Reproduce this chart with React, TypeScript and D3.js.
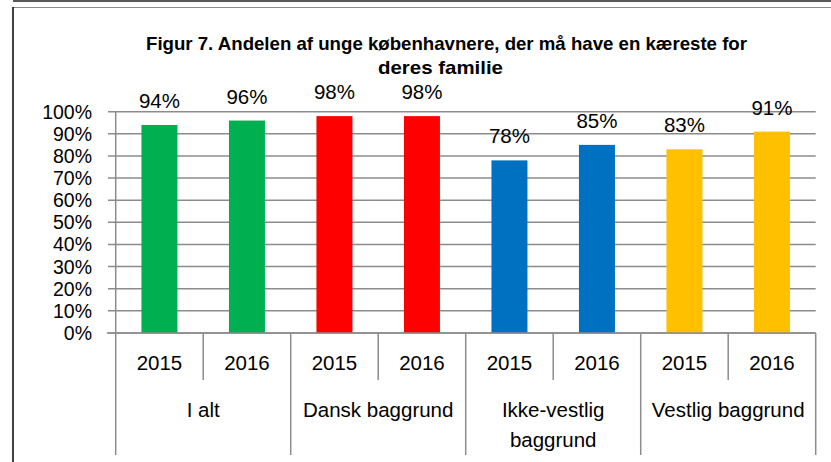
import React from "react";
import * as d3 from "d3";

const groups = ["I alt", "Dansk baggrund", "Ikke-vestlig\nbaggrund", "Vestlig baggrund"];
const years = ["2015", "2016"];
const values = [94, 96, 98, 98, 78, 85, 83, 91];
const groupColors = ["#00B050", "#FF0000", "#0070C0", "#FFC000"];
const yTicks = [0, 10, 20, 30, 40, 50, 60, 70, 80, 90, 100];
const titleLines = ["Figur 7. Andelen af unge københavnere,  der må have en kæreste for", "deres familie"];

const W = 831;
const H = 462;
const plotLeft = 115.7;
const plotRight = 815.7;
const plotTop = 111.7;
const plotBottom = 333;
const font = "'Liberation Sans', Arial, sans-serif";
const fs = 20.5;

export default function App() {
  const slots = values.map((_, i) => String(i));
  const x = d3.scaleBand<string>().domain(slots).range([plotLeft, plotRight]).padding(0);
  const y = d3.scaleLinear().domain([0, 100]).range([plotBottom, plotTop]);
  const bw = x.bandwidth();
  const barW = 36;
  const grid = "#8c8c8c";

  return (
    <svg width={W} height={H} style={{ position: "absolute", left: 0, top: 0, background: "#fff" }}>
      {/* frame */}
      <line x1={13} x2={W} y1={1} y2={1} stroke="#595959" strokeWidth={2} />
      <line x1={13} x2={W} y1={7.5} y2={7.5} stroke="#8c8c8c" strokeWidth={1} />
      <line x1={13} x2={13} y1={7} y2={H} stroke="#000" strokeWidth={1.5} />

      {/* title */}
      <text x={446.5} y={50} textAnchor="middle" fontFamily={font} fontWeight="bold" fontSize={18.5}
        textLength={601} lengthAdjust="spacingAndGlyphs" fill="#000">{titleLines[0]}</text>
      <text x={440.5} y={74} textAnchor="middle" fontFamily={font} fontWeight="bold" fontSize={18.5}
        textLength={125} lengthAdjust="spacingAndGlyphs" fill="#000">{titleLines[1]}</text>

      {/* gridlines */}
      {yTicks.map((t) => (
        <g key={t}>
          <line x1={108} x2={plotRight} y1={y(t)} y2={y(t)} stroke={grid} strokeWidth={1.5} />
          <text x={92} y={y(t) + 7} textAnchor="end" fontFamily={font} fontSize={19.5} fill="#000">{t + "%"}</text>
        </g>
      ))}

      {/* bars */}
      {values.map((v, i) => {
        const cx = (x(String(i)) as number) + bw / 2;
        return (
          <g key={i}>
            <rect x={cx - barW / 2} y={y(v)} width={barW} height={plotBottom - y(v)} fill={groupColors[Math.floor(i / 2)]} />
            <text x={cx} y={y(v) - 17} textAnchor="middle" fontFamily={font} fontSize={fs} fill="#000">{v + "%"}</text>
          </g>
        );
      })}

      {/* axes */}
      <line x1={plotLeft} x2={plotLeft} y1={plotTop} y2={455} stroke={grid} strokeWidth={1.5} />
      <line x1={107} x2={plotRight} y1={plotBottom} y2={plotBottom} stroke={grid} strokeWidth={1.5} />
      {d3.range(1, values.length + 1).map((k) => {
        const xx = plotLeft + k * bw;
        const isGroup = k % 2 === 0;
        return <line key={k} x1={xx} x2={xx} y1={plotBottom} y2={isGroup ? 455 : 380} stroke={grid} strokeWidth={1.5} />;
      })}

      {/* year labels */}
      {values.map((_, i) => (
        <text key={i} x={(x(String(i)) as number) + bw / 2} y={370} textAnchor="middle" fontFamily={font} fontSize={fs} fill="#000">
          {years[i % 2]}
        </text>
      ))}

      {/* group labels */}
      {groups.map((g, gi) => {
        const cx = plotLeft + (gi * 2 + 1) * bw;
        const lines = g.split("\n");
        return (
          <text key={gi} textAnchor="middle" fontFamily={font} fontSize={fs} fill="#000">
            {lines.map((l, li) => (
              <tspan key={li} x={cx} y={417 + li * 30}>{l}</tspan>
            ))}
          </text>
        );
      })}
    </svg>
  );
}
